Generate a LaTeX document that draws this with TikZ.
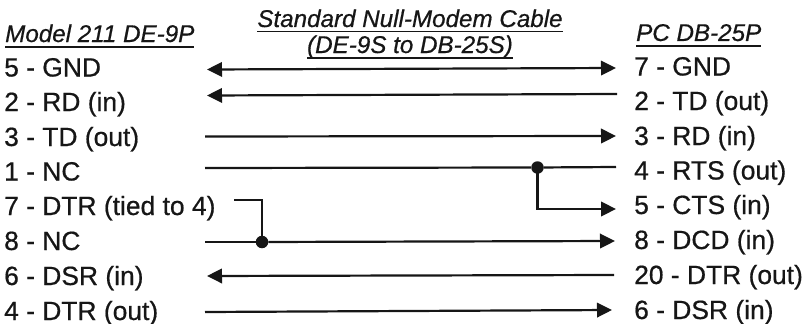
\documentclass[tikz,border=0pt]{standalone}
\usepackage{fontspec}
\setmainfont{Liberation Sans}
\usetikzlibrary{arrows.meta}
\definecolor{ink}{HTML}{161616}
\newcommand{\ulbox}[1]{\leavevmode\setbox0\hbox{#1}\rlap{\rule[-5.5pt]{\wd0}{1.8pt}}\box0}
\tikzset{
  x=1pt,y=-1pt,
  pinlabel/.style={anchor=base west,inner sep=0pt,text=ink,font=\fontsize{26.4}{26}\selectfont\addfontfeature{FakeBold=0.6}},
  headlabel/.style={anchor=base west,inner sep=0pt,text=ink,font=\fontsize{24.2}{24}\selectfont\itshape\addfontfeature{FakeBold=0.6}},
  cabletitle/.style={anchor=base,inner sep=0pt,text=ink,font=\fontsize{24.2}{24}\selectfont\itshape\addfontfeature{FakeBold=0.6}},
  wire/.style={draw=ink,line width=2.2pt},
  wirearrow/.style={wire,-{Triangle[length=15pt,width=14.5pt]}},
  wireback/.style={wire,{Triangle[length=15pt,width=14.5pt]}-},
  wirebothways/.style={wire,{Triangle[length=15pt,width=14.5pt]}-{Triangle[length=15pt,width=14.5pt]}},
  joint/.style={circle,fill=ink,inner sep=0pt,minimum size=12.5pt}
}
\begin{document}
\begin{tikzpicture}
\useasboundingbox (0,0) rectangle (807,324);
\node[headlabel] (hl) at (5,42) {\ulbox{Model 211 DE-9P}};
\node[headlabel] (hr) at (636,41) {\ulbox{PC DB-25P}};
\node[cabletitle] (t1) at (410,27) {\ulbox{Standard Null-Modem Cable}};
\node[cabletitle] (t2) at (410,53) {\ulbox{(DE-9S to DB-25S)}};
\node[pinlabel] (l1) at (4,76.5) {5 - GND};
\node[pinlabel] (l2) at (4,111) {2 - RD (in)};
\node[pinlabel] (l3) at (4,146) {3 - TD (out)};
\node[pinlabel] (l4) at (4,180.5) {1 - NC};
\node[pinlabel] (l5) at (4,215) {7 - DTR (tied to 4)};
\node[pinlabel] (l6) at (4,250) {8 - NC};
\node[pinlabel] (l7) at (4,285) {6 - DSR (in)};
\node[pinlabel] (l8) at (4,320) {4 - DTR (out)};
\node[pinlabel] (r1) at (634,75.5) {7 - GND};
\node[pinlabel] (r2) at (634,110) {2 - TD (out)};
\node[pinlabel] (r3) at (634,145) {3 - RD (in)};
\node[pinlabel] (r4) at (634,179.5) {4 - RTS (out)};
\node[pinlabel] (r5) at (634,214) {5 - CTS (in)};
\node[pinlabel] (r6) at (634,249) {8 - DCD (in)};
\node[pinlabel] (r7) at (634,284) {20 - DTR (out)};
\node[pinlabel] (r8) at (634,319) {6 - DSR (in)};
\coordinate (a1) at (207,69.5); \coordinate (b1) at (616,68);
\coordinate (a2) at (207,95.5); \coordinate (b2) at (617,94);
\coordinate (a3) at (205,136.5); \coordinate (b3) at (616,136);
\coordinate (a4) at (205,168); \coordinate (b4) at (616,167);
\coordinate (b5) at (616,209);
\coordinate (a5) at (234,200); \coordinate (e5) at (262,200);
\coordinate (a6) at (205,242); \coordinate (b6) at (615,241);
\coordinate (a7) at (207,276); \coordinate (b7) at (614,275);
\coordinate (a8) at (205,312); \coordinate (b8) at (612,310);
\node[joint] (j1) at (537.5,167.5) {};
\node[joint] (j2) at (262,242) {};
\draw[wirebothways] (a1) -- (b1);
\draw[wireback] (a2) -- (b2);
\draw[wirearrow] (a3) -- (b3);
\draw[wire] (a4) -- (j1) -- (b4);
\draw[wirearrow] (j1.center) |- (b5);
\draw[wire] (a5) -- (e5) -- (j2.center);
\draw[wire] (a6) -- (j2);
\draw[wirearrow] (j2) -- (b6);
\draw[wireback] (a7) -- (b7);
\draw[wirearrow] (a8) -- (b8);
\end{tikzpicture}
\end{document}
